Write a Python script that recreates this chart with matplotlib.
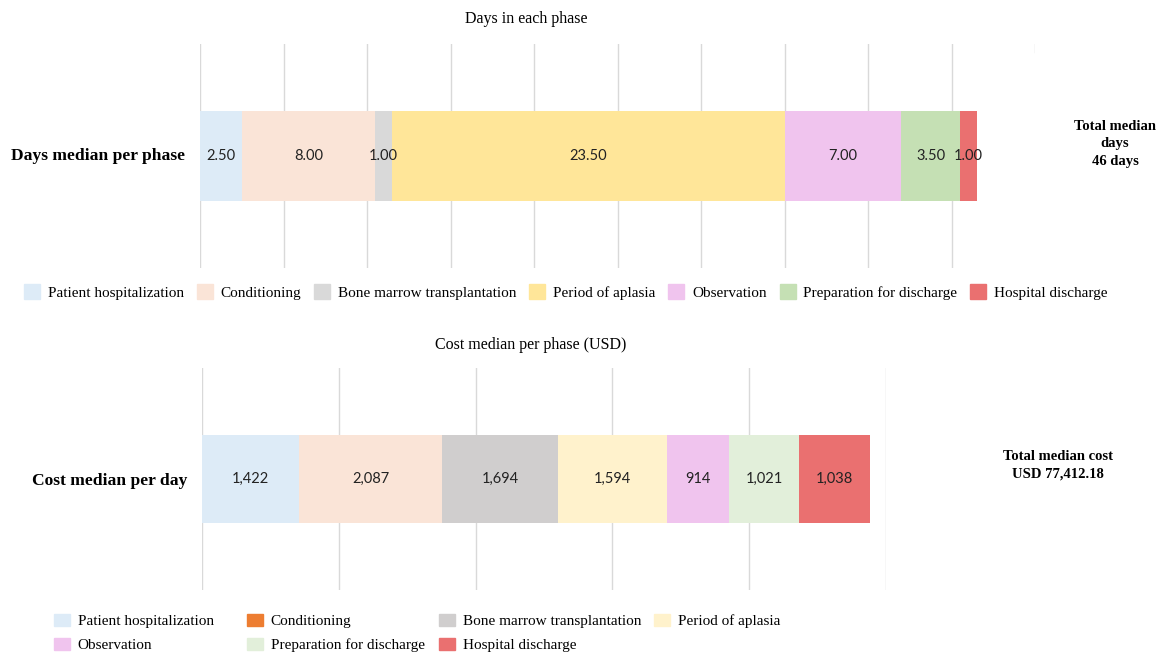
import matplotlib
matplotlib.use("Agg")
import matplotlib.pyplot as plt
from matplotlib.patches import Patch

# data
phases = ["Patient hospitalization", "Conditioning", "Bone marrow transplantation",
          "Period of aplasia", "Observation", "Preparation for discharge", "Hospital discharge"]
days = [2.5, 8.0, 1.0, 23.5, 7.0, 3.5, 1.0]
cost_per_day = [1422, 2087, 1694, 1594, 914, 1021, 1038]

days_colors = ["#DDEBF7", "#FAE4D7", "#D9D9D9", "#FFE699", "#F0C4EE", "#C5E0B4", "#EA7070"]
cost_colors = ["#DDEBF7", "#FAE4D7", "#D0CECE", "#FFF2CC", "#F0C4EE", "#E2EFDA", "#EA7070"]
cost_legend_colors = ["#DDEBF7", "#ED7D31", "#D0CECE", "#FFF2CC", "#F0C4EE", "#E2EFDA", "#EA7070"]

serif = "Liberation Serif"
num_font = "Lato"
W, H = 1164, 656

fig = plt.figure(figsize=(W / 100, H / 100), dpi=100)

def box(x0, y0, x1, y1):
    return [x0 / W, 1 - y1 / H, (x1 - x0) / W, (y1 - y0) / H]

def style(ax, xmax, step, short_last=False):
    ax.set_xlim(0, xmax)
    ax.set_ylim(-0.5, 0.5)
    ticks = list(range(0, xmax + 1, step))
    for t in ticks:
        if short_last and t == ticks[-1]:
            ax.axvline(t, ymin=0.965, ymax=1, color="#D9D9D9", lw=1, zorder=0)
        else:
            ax.axvline(t, color="#D9D9D9", lw=1, zorder=0)
    for s in ax.spines.values():
        s.set_visible(False)
    ax.set_xticks([])
    ax.set_yticks([])
    ax.patch.set_alpha(0)

# top chart: days
ax1 = fig.add_axes(box(200, 44, 1035, 268))
style(ax1, 50, 5, short_last=True)
left = 0
for v, c in zip(days, days_colors):
    ax1.barh(0, v, left=left, height=0.4, color=c, zorder=2)
    ax1.text(left + v / 2, 0, f"{v:.2f}", ha="center", va="center",
             fontsize=10.5, family=num_font, color="#222222", zorder=3)
    left += v

fig.text(526 / W, 1 - 19 / H, "Days in each phase", ha="center", va="center",
         fontsize=11.5, family=serif)
fig.text(185 / W, 1 - 156 / H, "Days median per phase", ha="right", va="center",
         fontsize=12.6, family=serif, weight="bold")
fig.text(1115 / W, 1 - 144 / H, "Total median\ndays\n46 days", ha="center", va="center",
         fontsize=10.5, family=serif, weight="bold", linespacing=1.45)

fig.legend([Patch(color=c) for c in days_colors], phases, loc="center left",
           bbox_to_anchor=(24 / W, 1 - 292 / H), ncol=7, frameon=False,
           prop={"family": serif, "size": 11}, handlelength=1.05, handleheight=1.1,
           handletextpad=0.5, columnspacing=0.85, borderaxespad=0, borderpad=0)

# bottom chart: cost
ax2 = fig.add_axes(box(202, 368, 886, 590))
style(ax2, 10000, 2000)
left = 0
for v, c in zip(cost_per_day, cost_colors):
    ax2.barh(0, v, left=left, height=0.4, color=c, zorder=2)
    ax2.text(left + v / 2, 0, f"{v:,.0f}", ha="center", va="center",
             fontsize=10.5, family=num_font, color="#222222", zorder=3)
    left += v

fig.text(531 / W, 1 - 345 / H, "Cost median per phase (USD)", ha="center", va="center",
         fontsize=11.5, family=serif)
fig.text(187 / W, 1 - 481 / H, "Cost median per day", ha="right", va="center",
         fontsize=12.6, family=serif, weight="bold")
fig.text(1058 / W, 1 - 465 / H, "Total median cost\nUSD 77,412.18", ha="center", va="center",
         fontsize=10.5, family=serif, weight="bold", linespacing=1.45)

# bottom legend: four columns, read row by row
columns = [[0, 4], [1, 5], [2, 6], [3]]
col_x = [54, 247, 439, 654]
for idx, x in zip(columns, col_x):
    fig.legend([Patch(color=cost_legend_colors[i]) for i in idx],
               [phases[i] for i in idx], loc="upper left",
               bbox_to_anchor=(x / W, 1 - 614 / H), frameon=False,
               prop={"family": serif, "size": 11}, handlelength=1.05, handleheight=0.85,
               handletextpad=0.5, borderaxespad=0, borderpad=0, labelspacing=0.62)

fig.savefig("out.png", dpi=100)
